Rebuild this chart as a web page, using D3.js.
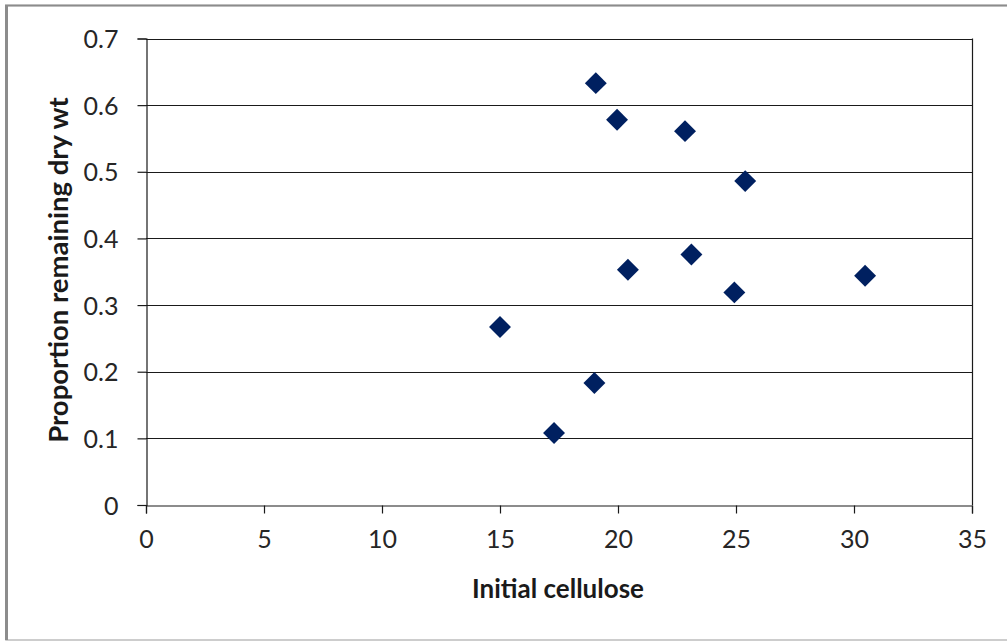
<!DOCTYPE html>
<html><head><meta charset="utf-8">
<script src="https://cdn.jsdelivr.net/npm/d3@7"></script>
<style>body{margin:0;background:#fff}svg{display:block}text{font-family:Lato,sans-serif}</style>
</head><body><svg id="c" width="1007" height="641"></svg>
<script>
const cellulose = [19.06, 19.96, 22.84, 25.39, 15.0, 17.29, 19.0, 20.42, 23.11, 24.93, 30.47];
const remaining = [0.633, 0.578, 0.561, 0.486, 0.267, 0.108, 0.183, 0.353, 0.376, 0.319, 0.344];
const xTicks = [0, 5, 10, 15, 20, 25, 30, 35];
const yTicks = [0, 0.1, 0.2, 0.3, 0.4, 0.5, 0.6, 0.7];
const xTitle = "Initial cellulose";
const yTitle = "Proportion remaining dry wt";

const svg = d3.select("#c");
// outer frame
svg.append("rect").attr("x",6).attr("y",5.5).attr("width",1010).attr("height",634.5)
  .attr("fill","#fff").attr("stroke","#bdbdbd").attr("stroke-width",1.5);
svg.append("line").attr("x1",6.5).attr("x2",6.5).attr("y1",5).attr("y2",640).attr("stroke","#8c8c8c").attr("stroke-width",3);
svg.append("line").attr("x1",5).attr("x2",1007).attr("y1",5.5).attr("y2",5.5).attr("stroke","#8c8c8c").attr("stroke-width",2);

const x = d3.scaleLinear().domain([0,35]).range([146,972]);
const y = d3.scaleLinear().domain([0,0.7]).range([505,38.5]);

// gridlines
svg.append("g").selectAll("line").data(yTicks.slice(1)).join("line")
  .attr("x1",146).attr("x2",972).attr("y1",d=>Math.round(y(d))+0.5).attr("y2",d=>Math.round(y(d))+0.5)
  .attr("stroke","#1a1a1a").attr("stroke-width",1.2);
// right border
svg.append("line").attr("x1",972.5).attr("x2",972.5).attr("y1",y(0.7)).attr("y2",505).attr("stroke","#1a1a1a").attr("stroke-width",1.2);

const xAxis = svg.append("g").attr("transform","translate(0,505.5)")
  .call(d3.axisBottom(x).tickValues(xTicks).tickSize(8).tickPadding(17).tickFormat(d3.format("d")));
const yAxis = svg.append("g").attr("transform","translate(146.5,0)")
  .call(d3.axisLeft(y).tickValues(yTicks).tickSize(9).tickPadding(19).tickFormat(d=>d===0?"0":d3.format(".1f")(d)));
[xAxis,yAxis].forEach(g=>{
  g.select(".domain").attr("stroke","#1a1a1a").attr("stroke-width",1.2);
  g.selectAll(".tick line").attr("stroke","#1a1a1a").attr("stroke-width",1.2);
  g.selectAll(".tick text").attr("font-size",25).attr("fill","#262626").attr("font-family","Lato");
});
yAxis.selectAll(".tick text").attr("dy","0.36em");

// points
const sym = d3.symbol().type(d3.symbolSquare).size(240);
svg.append("g").selectAll("path").data(cellulose.map((c,i)=>[c,remaining[i]])).join("path")
  .attr("d",sym).attr("transform",d=>`translate(${x(d[0])},${y(d[1])}) rotate(45)`)
  .attr("fill","#002060");

svg.append("text").attr("x",558).attr("y",598).attr("text-anchor","middle")
  .attr("font-size",26).attr("font-weight","bold").attr("fill","#1a1a1a").text(xTitle);
svg.append("text").attr("transform","translate(68,270) rotate(-90)").attr("text-anchor","middle")
  .attr("font-size",27.5).attr("font-weight","bold").attr("fill","#1a1a1a").text(yTitle);
</script></body></html>
